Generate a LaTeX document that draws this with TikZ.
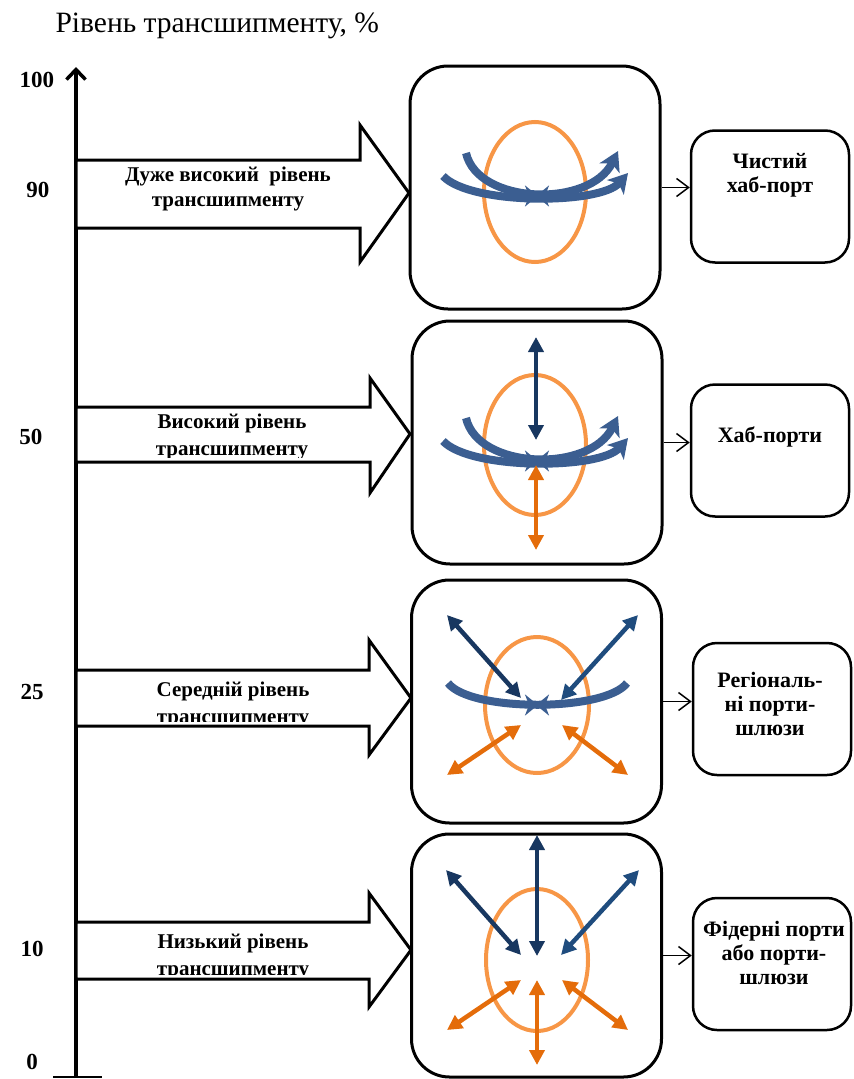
\documentclass[tikz,border=0pt]{standalone}
\usepackage{fontspec}
\setmainfont{Liberation Serif}
\usetikzlibrary{arrows.meta}

\definecolor{ringorange}{RGB}{247,150,70}
\definecolor{flowblue}{RGB}{59,94,145}
\definecolor{navy}{RGB}{24,55,96}
\definecolor{navylight}{RGB}{31,76,126}
\definecolor{deeporange}{RGB}{228,108,10}

\begin{document}
\begin{tikzpicture}[x=1pt,y=-1pt,
        hubbox/.style={draw,line width=3pt,rounded corners=38pt,minimum width=250pt,minimum height=243pt},
        portbox/.style={draw,line width=2.5pt,rounded corners=24pt,minimum width=158pt,minimum height=132pt},
        flowarrow/.style={draw,fill=white,line width=3pt,line join=miter},
        flowlbl/.style={font=\bfseries\fontsize{21}{27}\selectfont,align=center},
        portlbl/.style={font=\bfseries\fontsize{22}{24}\selectfont,align=center},
        lvl/.style={font=\bfseries\fontsize{23}{26}\selectfont},
        ring/.style={draw=ringorange,line width=4pt},
        curvearr/.style={draw=flowblue,line width=8pt,-{Stealth[length=19pt,width=22pt,inset=5pt]}},
        navyarr/.style={draw=navy,line width=4.5pt,{Triangle[length=15pt,width=15pt]}-{Triangle[length=15pt,width=15pt]}},
        orangearr/.style={navyarr,draw=deeporange},
        conn/.style={line width=1.5pt,-{Straight Barb[length=12pt,width=18pt]}}]
        \useasboundingbox (0,0) rectangle (854,1079);

        % axis
        \node[anchor=base west,font=\fontsize{29.5}{34}\selectfont] (title) at (52,32) {Рівень трансшипменту, \%};
        \draw[line width=3.5pt,-{Straight Barb[length=10pt,width=19pt]}] (76,1078) -- (76,67);
        \draw[line width=2.5pt] (53,1077) -- (102,1077);
        \foreach \val/\xpos/\ypos in {100/37/80, 90/38/190, 50/31/437, 25/32/692, 10/32/949, 0/32/1062}
            \node[lvl] (lvl\val) at (\xpos,\ypos) {\val};

        % level arrows
        \draw[flowarrow] (76,160) -- (360,160) -- (360,125) -- (409,193) -- (360,262) -- (360,228) -- (76,228) -- cycle;
        \draw[flowarrow] (76,407) -- (370,407) -- (370,378) -- (410,434) -- (370,493) -- (370,462) -- (76,462) -- cycle;
        \draw[flowarrow] (76,670) -- (369,670) -- (369,640) -- (411,698) -- (369,755) -- (369,726) -- (76,726) -- cycle;
        \draw[flowarrow] (76,922) -- (369,922) -- (369,893) -- (411,950) -- (369,1007) -- (369,979) -- (76,979) -- cycle;

        \node[flowlbl,font=\bfseries\fontsize{21}{25}\selectfont] (lbl1) at (228,189) {Дуже високий\ \ рівень\\трансшипменту};
        \begin{scope}
            \clip (78,409) rectangle (368,457);
            \node[flowlbl] (lbl2) at (232,437) {Високий рівень\\трансшипменту};
        \end{scope}
        \begin{scope}
            \clip (78,672) rectangle (367,721);
            \node[flowlbl] (lbl3) at (233,705) {Середній рівень\\трансшипменту};
        \end{scope}
        \begin{scope}
            \clip (78,924) rectangle (367,974);
            \node[flowlbl] (lbl4) at (233,957) {Низький рівень\\трансшипменту};
        \end{scope}

        % hub boxes
        \node[hubbox] (hub1) at (535,187.5) {};
        \node[hubbox] (hub2) at (537,442.5) {};
        \node[hubbox] (hub3) at (536.5,701.5) {};
        \node[hubbox] (hub4) at (536.5,955.5) {};

        \draw[ring] (535,192) ellipse [x radius=51, y radius=70];
        \draw[ring] (535,445) ellipse [x radius=51, y radius=70];
        \draw[ring] (537,705) ellipse [x radius=52, y radius=68];
        \draw[ring] (537,960) ellipse [x radius=51, y radius=71];

        % curved flows
        \foreach \dy in {0,265} {
            \draw[curvearr] (466,153+\dy) .. controls (478,205+\dy) and (590,208+\dy) .. (618,151+\dy);
            \draw[curvearr] (443,176+\dy) .. controls (470,205+\dy) and (600,205+\dy) .. (628,173+\dy);
        }
        \draw[draw=flowblue,line width=8pt] (448,683) .. controls (470,712) and (605,712) .. (627,683);
        \foreach \cx/\cy in {537/196, 537/461, 537/705} {
            \draw[draw=flowblue,line width=4pt,-{Stealth[length=13pt,width=21pt,inset=4pt]}] (\cx-18,\cy) -- (\cx+1,\cy);
            \draw[draw=flowblue,line width=4pt,-{Stealth[length=13pt,width=21pt,inset=4pt]}] (\cx+18,\cy) -- (\cx-1,\cy);
        }

        % straight flows
        \draw[navyarr] (536,337) -- (536,440);
        \draw[orangearr] (536,465) -- (536,550);

        \draw[navyarr] (447,615) -- (521,698);
        \draw[navyarr,draw=navylight] (638,615) -- (561,700);
        \draw[orangearr] (447,775) -- (521,725);
        \draw[orangearr] (628,775) -- (562,725);

        \draw[navyarr] (537,835) -- (537,956);
        \draw[navyarr] (446,870) -- (521,955);
        \draw[navyarr,draw=navylight] (639,870) -- (561,955);
        \draw[orangearr] (537,980) -- (537,1065);
        \draw[orangearr] (447,1030) -- (521,980);
        \draw[orangearr] (628,1030) -- (562,980);

        % port types
        \node[portbox] (port1) at (770,196.5) {};
        \node[portbox] (port2) at (770,450.5) {};
        \node[portbox] (port3) at (772,709) {};
        \node[portbox] (port4) at (772,964) {};
        \node[portlbl] (port1txt) at (770,175) {Чистий\\хаб-порт};
        \node[portlbl] (port2txt) at (770,437) {Хаб-порти};
        \node[portlbl] (port3txt) at (770,704) {Регіональ-\\ні порти-\\шлюзи};
        \node[portlbl] (port4txt) at (774,953) {Фідерні порти\\або порти-\\шлюзи};

        \foreach \i in {1,2,3,4}
            \draw[conn] (hub\i.east) -- (hub\i.east -| port\i.west);
\end{tikzpicture}
\end{document}
